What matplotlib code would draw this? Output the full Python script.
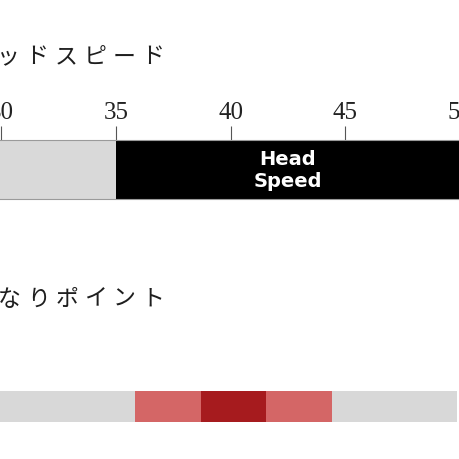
import matplotlib.pyplot as plt

# Head speed scale (m/s) and the recommended range
speed_ticks = [30, 35, 40, 45, 50]
speed_min, speed_max = 30, 49.7
hs_range = (35, 50)
hs_label = 'Head\nSpeed'

# Kick point scale: steps, 0 = none, 1 = near, 2 = main
kick_levels = [0, 0, 0, 1, 2, 1, 0, 0]
kick_colors = {0: '#d8d8d8', 1: '#d46666', 2: '#a61b1e'}

title_speed = 'ヘッドスピード'
title_kick = 'しなりポイント'

W = H = 460
fig = plt.figure(figsize=(4.6, 4.6), dpi=100)
fig.patch.set_facecolor('white')


def px(x, y):
    # pixel position (from top-left) -> figure fraction
    return x / W, 1 - y / H


def spaced_title(text, x0, yc, pitch):
    # Japanese titles are letter-spaced, so place each glyph on its own
    for i, ch in enumerate(text):
        fx, fy = px(x0 + pitch * i, yc)
        fig.text(fx, fy, ch, ha='center', va='center', fontsize=16.5,
                 family=['Noto Sans CJK JP', 'DejaVu Sans'], color='#1e1e1e')


spaced_title(title_speed, -21, 57, 29)
spaced_title(title_kick, -19, 299, 28.6)

# --- head speed bar ---
ax1 = fig.add_axes([0, (H - 200) / H, 1, 59 / H])
ax1.set_xlim(speed_min - 1.5 / 23.43, speed_max)
ax1.set_ylim(0, 1)
ax1.barh(0.5, hs_range[0] - 20, left=20, height=1, color='#d9d9d9')
ax1.barh(0.5, hs_range[1] - hs_range[0], left=hs_range[0], height=1, color='black')
ax1.text(sum(hs_range) / 2, 0.5, hs_label, ha='center', va='center',
         color='white', fontsize=14, fontweight='bold', linespacing=1.15,
         family='DejaVu Sans')
ax1.set_xticks(speed_ticks)
ax1.set_xticklabels([str(t) for t in speed_ticks])
ax1.set_yticks([])
ax1.xaxis.tick_top()
ax1.tick_params(axis='x', direction='out', length=10, width=0.8, color='#555555',
                pad=2, labelsize=18, labelcolor='#222222')
for lab in ax1.get_xticklabels():
    lab.set_family('Liberation Serif')
for s in ['left', 'right']:
    ax1.spines[s].set_visible(False)
for s in ['top', 'bottom']:
    ax1.spines[s].set_color('#9a9a9a')
    ax1.spines[s].set_linewidth(0.8)

# --- kick point bar ---
ax2 = fig.add_axes([0, (H - 423) / H, 457 / W, 31 / H])
seg = 65.7
ax2.set_xlim(3 - 135 / seg, 3 + (457 - 135) / seg)
ax2.set_ylim(0, 1)
ax2.bar(range(len(kick_levels)), [1] * len(kick_levels), width=1, align='edge',
        color=[kick_colors[k] for k in kick_levels])
ax2.axis('off')

fig.savefig('out.png', dpi=100, facecolor='white')
